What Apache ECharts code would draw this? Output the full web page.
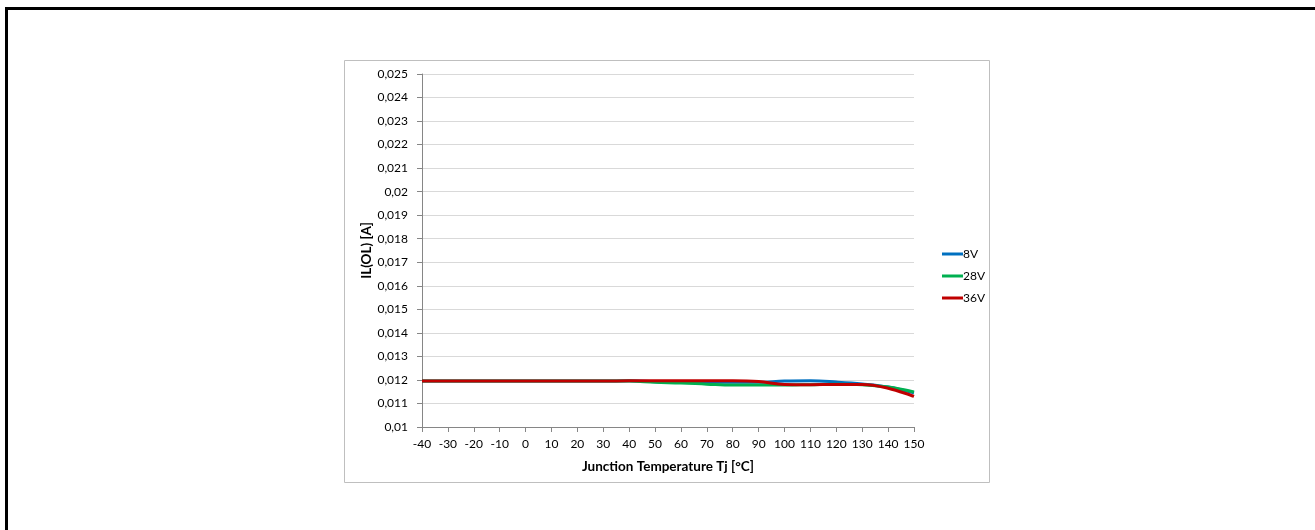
<!DOCTYPE html>
<html>
<head>
<meta charset="utf-8">
<script src="https://cdn.jsdelivr.net/npm/echarts@6/dist/echarts.min.js"></script>
<style>
  html, body { margin: 0; padding: 0; background: #fff; }
  #chart { width: 1315px; height: 530px; }
</style>
</head>
<body>
<div id="chart"></div>
<script>
// temperatures (°C)
const temps = [-40, -30, -20, -10, 0, 10, 20, 30, 40, 50, 60, 70, 80, 90, 100, 110, 120, 130, 140, 150];
// IL(OL) in A
const v8 = [0.01195, 0.01195, 0.01195, 0.01195, 0.01195, 0.01195, 0.01195, 0.01195, 0.01196, 0.01192, 0.0119, 0.0119, 0.0119, 0.0119, 0.01195, 0.01196, 0.01191, 0.01183, 0.0117, 0.01145];
const v28 = [0.01195, 0.01195, 0.01195, 0.01195, 0.01195, 0.01195, 0.01195, 0.01195, 0.01195, 0.0119, 0.01187, 0.01182, 0.01178, 0.01178, 0.01178, 0.0118, 0.01182, 0.0118, 0.0117, 0.01149];
const v36 = [0.01195, 0.01195, 0.01195, 0.01195, 0.01195, 0.01195, 0.01195, 0.01195, 0.01196, 0.01196, 0.01196, 0.01196, 0.01196, 0.01193, 0.01181, 0.0118, 0.01181, 0.01181, 0.01165, 0.0113];
const seriesNames = ['8V', '28V', '36V'];
const colors = ['#0070C0', '#00B050', '#C00000'];

const font = 'Lato, "Open Sans", sans-serif';
const chart = echarts.init(document.getElementById('chart'));

const lineSeries = [v8, v28, v36].map((vals, i) => ({
  name: seriesNames[i],
  type: 'line',
  smooth: 0.4,
  symbol: 'none',
  data: temps.map((t, j) => [t, vals[j]]),
  lineStyle: { color: colors[i], width: 3 },
  itemStyle: { color: colors[i] },
}));

chart.setOption({
  animation: false,
  backgroundColor: '#fff',
  textStyle: { fontFamily: font },
  graphic: [
    // outer frame (top + left)
    { type: 'rect', shape: { x: 5, y: 7, width: 3, height: 523 }, style: { fill: '#000' } },
    { type: 'rect', shape: { x: 5, y: 7, width: 1310, height: 3 }, style: { fill: '#000' } },
    // chart area border
    { type: 'rect', shape: { x: 344.5, y: 60.5, width: 645, height: 422 }, style: { fill: 'none', stroke: '#bfbfbf', lineWidth: 1 } },
  ],
  grid: { left: 422, top: 74, right: 401, bottom: 103, containLabel: false },
  legend: {
    orient: 'vertical',
    left: 937,
    top: 242,
    icon: 'rect',
    itemWidth: 21,
    itemHeight: 3,
    itemGap: 8,
    data: seriesNames,
    textStyle: { fontFamily: font, fontSize: 12, color: '#000', padding: [0, 0, 0, -5], lineHeight: 14 },
  },
  xAxis: {
    type: 'value',
    min: -40,
    max: 150,
    interval: 10,
    name: 'Junction Temperature Tj [°C]',
    nameLocation: 'middle',
    nameGap: 33,
    nameTextStyle: { fontFamily: font, fontSize: 13.5, fontWeight: 'bold', color: '#000' },
    axisLine: { show: true, onZero: false, lineStyle: { color: '#868686', width: 1 } },
    axisTick: { show: true, length: 5, lineStyle: { color: '#868686' } },
    axisLabel: { fontFamily: font, fontSize: 12, color: '#000', margin: 11 },
    splitLine: { show: false },
  },
  yAxis: {
    type: 'value',
    min: 0.01,
    max: 0.025,
    interval: 0.001,
    name: 'IL(OL) [A]',
    nameLocation: 'middle',
    nameGap: 48,
    nameRotate: 90,
    nameTextStyle: { fontFamily: font, fontSize: 13.5, fontWeight: 'bold', color: '#000' },
    axisLine: { show: true, onZero: false, lineStyle: { color: '#868686', width: 1 } },
    axisTick: { show: true, length: 5, lineStyle: { color: '#868686' } },
    axisLabel: {
      fontFamily: font, fontSize: 12, color: '#000', margin: 14,
      formatter: v => String(+v.toFixed(3)).replace('.', ','),
    },
    splitLine: { show: true, lineStyle: { color: '#d9d9d9', width: 1 } },
  },
  series: lineSeries,
});
</script>
</body>
</html>
